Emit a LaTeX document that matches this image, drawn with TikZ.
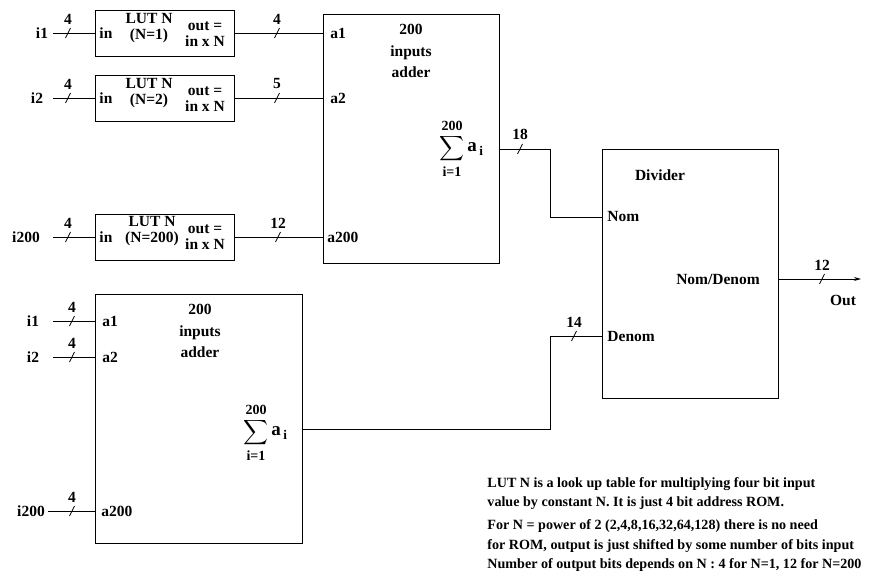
\documentclass[tikz,border=0pt]{standalone}
\usepackage{fontspec}
\setmainfont{Liberation Serif}
\usepackage{amsmath}
\usetikzlibrary{arrows.meta}

\begin{document}
\begin{tikzpicture}[
  x=1pt, y=-1pt,
  line width=0.9pt,
  font=\fontsize{15.5}{17}\selectfont\bfseries,
  lut/.style={draw, minimum width=139, minimum height=46, anchor=west, inner sep=0},
  block/.style={draw, minimum width=176, minimum height=249, anchor=north west, inner sep=0},
  port/.style={anchor=west, inner xsep=7, inner ysep=1},
  sig/.style={anchor=center, inner sep=1},
  two/.style={align=center, inner sep=0, font=\fontsize{15.5}{16}\selectfont\bfseries},
  title/.style={align=center, inner sep=0, font=\fontsize{15.5}{21.5}\selectfont\bfseries},
  sum/.style={inner sep=0, font=\fontsize{19}{22}\selectfont\bfseries},
  lim/.style={inner sep=1, font=\fontsize{14}{16}\selectfont\bfseries},
  bus/.pic={\draw[line width=0.7pt] (-2.5,5) -- (2.5,-5);
            \node[anchor=south, inner sep=1] (-n) at (0,-7.5) {#1};},
]
\useasboundingbox (0,0) rectangle (874,580);

% ============ LUT row ============
\node[lut] (lut1)   at (95,33)  {};
\node[lut] (lut2)   at (95,98)  {};
\node[lut] (lut200) at (95,237) {};

\node[port, inner xsep=4] (in1)   at (95,33)  {in};
\node[port, inner xsep=4] (in2)   at (95,98)  {in};
\node[port, inner xsep=4] (in200) at (95,237) {in};

\node[two] (n1)   at (149,28.5)  {LUT N\\(N=1)};
\node[two] (n2)   at (149,93.5)  {LUT N\\(N=2)};
\node[two] (n200) at (152,231) {LUT N\\(N=200)};
\node[two] (m1)   at (205,34)  {out =\\in x N};
\node[two] (m2)   at (205,99)  {out =\\in x N};
\node[two] (m200) at (205,237) {out =\\in x N};

\node[sig] (i1)   at (42,33)  {i1};
\node[sig] (i2)   at (37,98)  {i2};
\node[sig] (i200) at (26,237) {i200};

\coordinate (s1)   at (53,33);
\coordinate (s2)   at (53,98);
\coordinate (s200) at (53,237);
\draw (s1) -- (lut1.west);
\draw (s2) -- (lut2.west);
\draw (s200) -- (lut200.west);
\pic (t1) at (68,33) {bus=4};
\pic (t2) at (68,98) {bus=4};
\pic (t3) at (68,237) {bus=4};

% ============ upper adder ============
\node[block] (addA) at (323,14) {};
\node[title] (capA) at (411,51) {200\\inputs\\adder};
\node[port] (a1A)   at (323,33)  {a1};
\node[port] (a2A)   at (323,98)  {a2};
\node[port, inner xsep=4] (a200A) at (323,237) {a200};
\node[sum] (sigA) at (452,149) {$\displaystyle\sum$};
\node[sum, anchor=west, xshift=2] (aA) at (sigA.east) {a$_{\,\text{i}}$};
\node[lim, anchor=south, yshift=3] (hiA) at (sigA.north) {200};
\node[lim, anchor=north, yshift=-2] (loA) at (sigA.south) {i=1};

\draw (lut1.east) -- (a1A.west);
\draw (lut2.east) -- (a2A.west);
\draw (lut200.east) -- (a200A.west);
\pic (t4) at (277,33) {bus=4};
\pic (t5) at (277,98) {bus=5};
\pic (t6) at (278,237) {bus=12};

% ============ lower adder ============
\node[block, minimum width=207] (addB) at (95,294) {};
\node[title] (capB) at (200,331) {200\\inputs\\adder};
\node[port] (a1B)   at (95,321) {a1};
\node[port] (a2B)   at (95,357) {a2};
\node[port, inner xsep=6] (a200B) at (95,511) {a200};
\node[sum] (sigB) at (256,433) {$\displaystyle\sum$};
\node[sum, anchor=west, xshift=2] (aB) at (sigB.east) {a$_{\,\text{i}}$};
\node[lim, anchor=south, yshift=3] (hiB) at (sigB.north) {200};
\node[lim, anchor=north, yshift=-2] (loB) at (sigB.south) {i=1};

\node[sig] (j1)   at (33,321) {i1};
\node[sig] (j2)   at (33,357) {i2};
\node[sig] (j200) at (31,511) {i200};
\coordinate (r1)   at (53,321);
\coordinate (r2)   at (53,357);
\coordinate (r200) at (48,511);
\draw (r1) -- (a1B.west);
\draw (r2) -- (a2B.west);
\draw (r200) -- (a200B.west);
\pic (t7) at (72,321) {bus=4};
\pic (t8) at (72,357) {bus=4};
\pic (t9) at (72,511) {bus=4};

% ============ divider ============
\node[block] (div) at (602,149) {};
\node (dtitle) at (660,175) {Divider};
\node[port, inner xsep=5] (nom) at (602,217) {Nom};
\node[port, inner xsep=5] (den) at (602,336) {Denom};
\node (nd) at (718,279) {Nom/Denom};

\coordinate (bendA) at (550,149);
\coordinate (bendB) at (550,429);
\draw (addA.east |- bendA) -- (bendA) |- (nom.west);
\draw (addB.east |- bendB) -- (bendB) |- (den.west);
\pic (t10) at (520,149) {bus=18};
\pic (t11) at (574,336) {bus=14};

\coordinate (outEnd) at (861,279);
\draw[-{Stealth[length=7pt, width=4pt]}] (div.east |- outEnd) -- (outEnd);
\pic (t12) at (822,279) {bus=12};
\node (out) at (843,300) {Out};

% ============ note ============
\node[anchor=north west, align=left, inner sep=0,
      font=\fontsize{14.1}{19.5}\selectfont\bfseries] (note) at (487,477)
  {LUT N is a look up table for multiplying four bit input\\
   value by constant N. It is just 4 bit address ROM.\\[3.5pt]
   For N = power of 2 (2,4,8,16,32,64,128) there is no need\\
   for ROM, output is just shifted by some number of bits input\\
   Number of output bits depends on N : 4 for N=1, 12 for N=200};

\end{tikzpicture}
\end{document}
